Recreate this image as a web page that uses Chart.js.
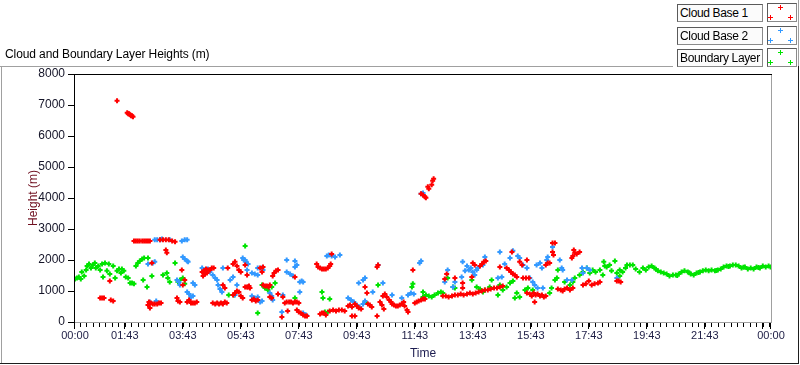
<!DOCTYPE html>
<html>
<head>
<meta charset="utf-8">
<script src="https://cdn.jsdelivr.net/npm/chart.js@4.4.1/dist/chart.umd.min.js"></script>
<style>
body{margin:0;background:#fff;font-family:"Liberation Sans",Arial,sans-serif;}
#wrap{position:relative;width:800px;height:365px;overflow:hidden;}
#c{position:absolute;left:0;top:0;}
.ttl{position:absolute;left:5px;top:46px;font-size:12px;line-height:16px;color:#000;white-space:nowrap;letter-spacing:-0.1px;}
.ln{position:absolute;}
.lgTxt{position:absolute;left:677px;width:86px;height:18px;border:1px solid #8a8a8a;border-top-color:#5a5a5a;border-left-color:#5a5a5a;background:#fbfbfb;font-size:12px;line-height:16px;padding-left:2px;box-sizing:border-box;white-space:nowrap;overflow:hidden;letter-spacing:-0.35px;}
.lgSym{position:absolute;left:767px;width:30px;height:19px;border:1px solid #8a8a8a;border-top-color:#5a5a5a;border-left-color:#5a5a5a;background:#fff;box-sizing:border-box;}
.lgSym svg{position:absolute;left:0;top:0;}
</style>
</head>
<body>
<div id="wrap">
  <canvas id="c" width="800" height="365"></canvas>
  <div class="ttl">Cloud and Boundary Layer Heights (m)</div>
  <div class="ln" style="left:0;top:66px;width:673px;height:1px;background:#a0a0a0"></div>
  <div class="ln" style="left:1px;top:66px;width:1px;height:297px;background:#a0a0a0"></div>
  <div class="ln" style="left:0;top:363px;width:799px;height:1px;background:#1e1e1e"></div>
  <div class="ln" style="left:798px;top:0;width:1px;height:66px;background:#a0a0a0"></div>
  <div class="ln" style="left:798px;top:66px;width:1px;height:298px;background:#1e1e1e"></div>
  <div id="legend"></div>
</div>
<script>
// series names / colours (legend order)
var seriesNames = ['Cloud Base 1', 'Cloud Base 2', 'Boundary Layer'];
var seriesColors = ['#ff0000', '#3399ff', '#00e400'];

// axis ticks (x in minutes after 00:00)
var yTicks = [0, 1000, 2000, 3000, 4000, 5000, 6000, 7000, 8000];
var xLabelTicks = [0, 103, 223, 343, 463, 583, 703, 823, 943, 1063, 1183, 1303, 1440];
var xMajorTicks = [0, 103, 223, 343, 463, 583, 703, 823, 943, 1063, 1183, 1303, 1423, 1440];
var xMinorStep = 13.333;

// [minute, height m]
var cloudBase1 = [
 [87,7140],[108,6750],[110,6720],[112,6720],[114,6685],[116,6655],[118,6655],[120,6620],
 [122,2615],[126,2615],[130,2615],[134,2615],[139,2615],[143,2615],[147,2615],[151,2615],[155,2615],
 [176,2650],[182,2650],[188,2650],[194,2650],[201,2615],[207,2585],[188,2325],[190,2230],
 [52,775],[56,775],[60,775],[74,710],[79,680],[72,1325],
 [151,550],[153,645],[157,615],[161,580],[165,580],[170,580],[174,615],[178,615],[155,450],[159,1905],
 [211,775],[213,680],[217,645],[221,1680],[223,1195],[227,1355],
 [232,645],[236,710],[240,615],[244,615],[248,615],[252,645],
 [263,1615],[267,1650],[271,1710],[275,1680],[279,1680],[283,1745],[287,1745],[265,1485],[269,1550],[273,1580],
 [285,615],[290,580],[294,615],[298,580],[302,615],[306,580],[310,645],[314,615],
 [306,1195],[310,1100],[316,1745],
 [327,870],[331,935],[335,1000],[339,970],[343,840],[347,775],
 [327,1875],[331,1940],[335,1810],[339,1680],[343,1615],
 [352,1840],[356,1520],[358,1130],[352,1130],[356,1130],[360,1165],[362,1100],
 [366,710],[370,745],[374,680],[378,710],
 [383,1745],[387,1615],[389,1775],
 [389,1195],[393,1165],[397,1165],[401,1130],[403,1195],[403,810],[407,775],
 [409,1485],[412,1580],[416,1650],[420,1680],[420,905],
 [428,160],[440,355],[430,810],
 [434,615],[438,645],[443,645],[447,645],[451,615],[455,645],[459,645],[463,615],[455,1450],
 [459,390],[463,325],[467,290],[472,225],[476,195],[480,195],
 [500,1875],[503,1775],[507,1745],[511,1710],[515,1710],[519,1710],[523,1745],[527,1810],[529,1875],[531,2195],
 [507,260],[511,290],[515,290],[519,225],
 [527,355],[534,390],[540,355],[546,390],[552,390],[558,355],
 [565,515],[569,550],[573,485],[573,195],[579,195],
 [579,580],[583,515],[587,450],[592,420],[600,1130],[604,935],
 [606,580],[610,550],[614,485],[625,1775],[627,1840],[625,195],
 [631,645],[635,550],[639,420],
 [637,840],[641,905],[645,810],[650,710],[654,645],
 [656,580],[660,550],[664,515],[668,515],[672,550],[676,580],
 [680,645],[682,515],[687,390],[689,325],[699,1680],
 [703,615],[707,645],[711,680],[716,710],[720,745],[724,745],
 [716,4135],[720,4100],[724,4040],[726,4005],[730,4360],[732,4295],[738,4425],[740,4555],[742,4620],
 [761,840],[767,840],[773,810],[780,840],[786,870],[792,870],[798,905],[804,870],[811,905],[817,935],
 [823,905],[829,935],[835,970],[842,1000],[848,1035],[854,1035],[860,1065],[867,1100],[873,1100],[879,1130],[885,1165],
 [765,1390],[769,1550],[786,1420],[802,1260],[802,1100],
 [821,1450],[823,1905],[827,1840],[838,1810],[842,1875],[846,1940],[850,1970],[879,1775],
 [893,1745],[898,1680],[902,1615],[906,1550],[910,1520],[914,1450],
 [904,2260],[920,1940],[925,1840],[935,2000],[927,1420],[933,1420],[939,1420],
 [935,935],[941,905],[945,840],[949,935],[953,870],[957,905],[962,840],[966,870],[970,810],[974,840],[951,645],
 [988,2550],[993,2550],[988,2260],[990,2165],[978,1905],[982,1905],[974,1840],
 [999,1065],[1005,1035],[1009,1000],[1013,1065],[1018,1100],[1024,1035],[1030,1100],
 [1028,2065],[1030,2130],[1034,2230],[1038,2195],[1044,2260],[1032,2325],
 [1051,1195],[1057,1230],[1063,1325],[1069,1195],[1075,1230],[1082,1260],[1086,1290],
 [1121,1325],[1125,1325],[1129,1290]
];

var cloudBase2 = [
 [165,2650],[170,2650],[176,2650],[180,2680],[196,2650],[221,2615],[227,2650],[232,2650],
 [223,2100],[227,2035],[232,1970],[234,1940],[161,1905],[165,1940],[151,1875],[155,645],[168,680],
 [211,1355],[215,1290],[217,1195],[232,970],[236,905],[240,810],[244,840],[244,1260],[248,1195],
 [263,1745],[267,1680],[271,1650],[275,1710],[279,1615],[285,1520],[290,1420],[294,1355],
 [296,1195],[300,1065],[304,970],[306,1745],[321,1355],[327,1450],[335,1195],[331,870],
 [347,2065],[349,2000],[354,1940],[358,1875],[352,2000],[356,1680],
 [366,1580],[372,1550],[378,1520],[378,1745],[387,1745],[389,1680],
 [366,840],[372,775],[378,810],[383,645],[387,680],[403,935],[407,840],[409,710],
 [430,870],[428,325],[438,2000],[455,1970],[455,1775],[459,1840],[438,1615],[445,1550],[451,1485],
 [465,1290],[469,1325],[472,1290],[465,970],[472,290],[478,225],
 [521,2130],[525,2165],[531,2130],[538,2100],[548,2165],
 [565,775],[571,710],[577,645],[583,550],[589,485],[596,580],[600,680],
 [587,1260],[600,1420],[596,1355],[616,970],[637,1260],[627,1840],
 [656,870],[676,775],[689,870],[695,935],[701,905],[713,1905],[716,1970],[716,4135],[720,4165],
 [765,1290],[771,1680],[782,1130],[786,1290],[800,1450],[802,1940],[807,1650],
 [811,1810],[815,1680],[819,1745],[823,1615],[827,1520],[831,1680],[833,1745],[844,1840],[848,2100],
 [879,2260],[883,1450],[875,1420],[889,1875],[900,2065],[906,2295],
 [916,2130],[920,2065],[927,1840],[935,1745],[941,1420],[947,1290],[951,1195],
 [955,1840],[962,1905],[966,1745],[957,1100],[968,1100],[976,2000],[978,2100],[988,2420],
 [1003,2000],[1007,1745],[1009,1680],[1018,1355],[1028,1355],
 [1049,1745],[1051,1580],[1059,1745],[1065,1680],[1121,1420]
];

var boundaryLayer = [
 [0,1390],[4,1420],[8,1450],[12,1390],[14,1615],[19,1485],[23,1680],[25,1810],[29,1875],[33,1745],
 [37,1840],[41,1905],[43,1745],[48,1810],[52,1680],[56,1875],[58,1450],[62,1905],[66,1650],[70,1875],
 [72,1550],[79,1810],[83,1420],[87,1650],[91,1710],[95,1580],[97,1710],[101,1650],[105,1450],[110,1420],
 [114,1260],[118,1260],[122,1230],[126,1810],[130,1905],[134,1970],[139,2035],[143,2065],[141,1355],
 [149,1130],[151,2065],[159,1485],[182,1520],[190,1580],[192,1420],[196,1290],[207,1905],[213,1290],
 [217,1355],[223,1420],[227,1230],[318,870],[329,870],[352,2455],[378,290],[387,1195],[393,1100],
 [399,1035],[407,1130],[414,1260],[455,775],[511,970],[513,775],[527,745],[517,325],[523,325],
 [600,645],[627,1195],[697,1130],[699,1230],[720,810],[720,970],[726,870],[732,840],[738,810],
 [744,870],[751,935],[757,970],[761,935],[771,1420],[782,1130],[786,1100],[821,1355],[831,1130],
 [838,1065],[844,970],[848,1035],[858,1130],[862,1355],[875,870],[879,1195],[885,1035],[893,1130],
 [900,1260],[906,1325],[910,775],[914,935],[920,810],[931,1035],[937,1100],[947,1035],[982,935],
 [986,1100],[993,1355],[997,1420],[999,1680],[1013,1290],[1024,1195],[1030,1290],[1034,1420],
 [1044,1520],[1051,1615],[1059,1745],[1065,1580],[1071,1680],[1077,1615],[1086,1680],[1092,1520],
 [1094,1940],[1096,1810],[1100,1775],[1106,1840],[1110,1650],[1117,1970],[1121,1580],[1127,1680],
 [1127,1485],[1133,1615],[1139,1745],[1142,1840],[1148,1840],[1154,1840],[1160,1710],[1168,1615],
 [1175,1745],[1181,1680],[1187,1775],[1193,1810],[1199,1745],[1206,1650],[1212,1615],[1218,1580],
 [1224,1550],[1230,1485],[1237,1520],[1243,1520],[1249,1550],[1255,1615],[1261,1650],[1268,1615],
 [1274,1550],[1280,1520],[1286,1580],[1293,1615],[1299,1650],[1305,1680],[1311,1650],[1317,1680],
 [1324,1650],[1330,1680],[1336,1710],[1342,1775],[1348,1810],[1355,1810],[1361,1840],[1367,1840],
 [1373,1810],[1379,1745],[1386,1775],[1392,1710],[1398,1745],[1404,1710],[1410,1775],[1417,1745],
 [1423,1810],[1429,1775],[1435,1810],[1439,1775],
 [1202,1700],[1246,1500],[1271,1590],[1290,1600],[1327,1660],[1352,1790],[1383,1770],[1414,1760]
];

var FONT = '"Liberation Sans", Arial, sans-serif';

function hhmm(v){
	v = Math.round(v) % 1440;
	var h = Math.floor(v / 60), m = v % 60;
	return (h < 10 ? '0' : '') + h + ':' + (m < 10 ? '0' : '') + m;
}

function makeSet(name, pts, color){
	return {
		label: name,
		data: pts.map(function(p){ return {x: p[0], y: p[1]}; }),
		pointStyle: 'cross',
		radius: 2.5,
		borderWidth: 2,
		borderColor: color,
		backgroundColor: color,
		showLine: false
	};
}

// legend boxes (top right)
var lg = '';
seriesNames.forEach(function(n, i){
	var top = 4 + i * 22.5;
	var crosses = [[12,3],[2,13],[22,13]].map(function(p){
		return '<path d="M' + (p[0]-2) + ' ' + (p[1]+0.5) + 'h5M' + (p[0]+0.5) + ' ' + (p[1]-2) + 'v5" stroke="' + seriesColors[i] + '" stroke-width="1"/>';
	}).join('');
	lg += '<div class="lgTxt" style="top:' + top + 'px">' + n + '</div>';
	lg += '<div class="lgSym" style="top:' + (top - 1) + 'px"><svg width="28" height="17">' + crosses + '</svg></div>';
});
document.getElementById('legend').innerHTML = lg;

// plot frame + x tick marks
var framePlugin = {
	id: 'frame',
	afterDraw: function(chart){
		var ctx = chart.ctx, a = chart.chartArea, xs = chart.scales.x;
		ctx.save();
		ctx.lineWidth = 1;
		ctx.strokeStyle = '#a0a0a0';
		ctx.beginPath();
		ctx.moveTo(a.right + 0.5, a.top); ctx.lineTo(a.right + 0.5, a.bottom + 1);
		ctx.moveTo(a.left, a.bottom + 0.5); ctx.lineTo(a.right + 1, a.bottom + 0.5);
		ctx.stroke();
		ctx.strokeStyle = '#000';
		ctx.beginPath();
		ctx.moveTo(a.left - 0.5, a.top); ctx.lineTo(a.left - 0.5, a.bottom + 1);
		ctx.moveTo(a.left - 1, a.top + 0.5); ctx.lineTo(a.right + 1, a.top + 0.5);
		ctx.stroke();
		// minor ticks every 13.3 min, aligned on the 01:43 major
		ctx.beginPath();
		var v = xMajorTicks[1];
		while (v - xMinorStep > 0) v -= xMinorStep;
		for (; v < 1440; v += xMinorStep) {
			var px = Math.round(xs.getPixelForValue(v)) + 0.5;
			ctx.moveTo(px, a.bottom + 1); ctx.lineTo(px, a.bottom + 5);
		}
		xMajorTicks.forEach(function(t){
			var px = Math.round(xs.getPixelForValue(t)) - 0.5;
			ctx.moveTo(px, a.bottom + 1); ctx.lineTo(px, a.bottom + 7);
		});
		ctx.stroke();
		ctx.restore();
	}
};

new Chart(document.getElementById('c'), {
	type: 'scatter',
	data: {datasets: [
		makeSet(seriesNames[0], cloudBase1, seriesColors[0]),
		makeSet(seriesNames[1], cloudBase2, seriesColors[1]),
		makeSet(seriesNames[2], boundaryLayer, seriesColors[2])
	]},
	options: {
		responsive: false,
		animation: false,
		devicePixelRatio: 1,
		layout: {padding: {left: 0, top: 74, right: 29, bottom: 0}},
		plugins: {legend: {display: false}, tooltip: {enabled: false}},
		scales: {
			x: {
				type: 'linear', min: 0, max: 1440,
				afterFit: function(s){ s.height = 43; },
				afterBuildTicks: function(s){ s.ticks = xLabelTicks.map(function(v){ return {value: v}; }); },
				grid: {display: false, drawTicks: false},
				border: {display: false},
				ticks: {autoSkip: false, maxRotation: 0, padding: 7, color: '#1c1c44',
					font: {family: FONT, size: 11}, callback: function(v){ return hhmm(v); }},
				title: {display: true, text: 'Time', color: '#1c1c50', font: {family: FONT, size: 12}, padding: {top: 0, bottom: 4}}
			},
			y: {
				min: 0, max: 8000,
				afterFit: function(s){ s.width = 75; },
				afterBuildTicks: function(s){ s.ticks = yTicks.map(function(v){ return {value: v}; }); },
				grid: {drawOnChartArea: false, drawTicks: true, tickLength: 7, color: '#000'},
				border: {display: false},
				ticks: {padding: 3, color: '#141428', font: {family: FONT, size: 12}, callback: function(v){ return String(v); }},
				title: {display: true, text: 'Height (m)', color: '#701020', font: {family: FONT, size: 12}, padding: {top: 26, bottom: 0}}
			}
		}
	},
	plugins: [framePlugin]
});
</script>
</body>
</html>
